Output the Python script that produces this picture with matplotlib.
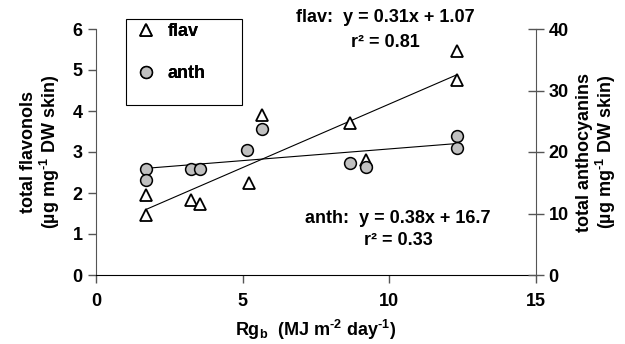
import matplotlib.pyplot as plt
from matplotlib.patches import Rectangle

plt.rcParams['font.family'] = ['Liberation Sans', 'DejaVu Sans']
plt.rcParams['font.weight'] = 'bold'
plt.rcParams['mathtext.fontset'] = 'custom'
plt.rcParams['mathtext.rm'] = 'Liberation Sans:bold'
plt.rcParams['mathtext.bf'] = 'Liberation Sans:bold'
plt.rcParams['mathtext.default'] = 'bf'

# global radiation (Rg_b) for each sample
rg_flav = [1.7, 1.7, 3.25, 3.55, 5.2, 5.65, 8.65, 9.2, 12.3, 12.3]
flav = [1.46, 1.95, 1.83, 1.73, 2.24, 3.9, 3.7, 2.8, 5.46, 4.75]

rg_anth = [1.7, 1.7, 3.25, 3.55, 5.15, 5.65, 8.65, 9.2, 12.3, 12.3]
anth = [17.2, 15.4, 17.2, 17.2, 20.3, 23.7, 18.2, 17.6, 22.6, 20.6]

# fitted regressions: slope, intercept, r²
flav_fit = (0.31, 1.07, 0.81)
anth_fit = (0.38, 16.7, 0.33)
fit_range = [1.7, 12.3]

fig = plt.figure(figsize=(6.25, 3.44), dpi=100)
ax = fig.add_axes([96/625, 1 - 275/344, 440/625, 246/344])
ax2 = ax.twinx()

fs = 13

ax.plot(rg_flav, flav, linestyle='none', marker='^', markersize=9,
        markerfacecolor='white', markeredgecolor='black', markeredgewidth=1.3,
        label='flav', zorder=3)
ax.plot(fit_range, [flav_fit[0] * x + flav_fit[1] for x in fit_range],
        color='black', lw=0.8, zorder=2)

ax2.plot(rg_anth, anth, linestyle='none', marker='o', markersize=8.5,
         markerfacecolor='#c0c0c0', markeredgecolor='black', markeredgewidth=1.1,
         label='anth', zorder=3)
ax2.plot(fit_range, [anth_fit[0] * x + anth_fit[1] for x in fit_range],
         color='black', lw=0.8, zorder=2)

ax.set_xlim(0, 15)
ax.set_ylim(0, 6)
ax2.set_ylim(0, 40)
ax.set_xticks([0, 5, 10, 15])
ax.set_yticks(range(7))
ax2.set_yticks(range(0, 41, 10))

for a in (ax, ax2):
    a.spines['top'].set_visible(False)
    a.tick_params(labelsize=fs, width=1, length=6, color='#555555')
ax2.spines['left'].set_visible(False)
ax.spines['right'].set_visible(False)
ax.spines['left'].set_color('#555555')
ax2.spines['right'].set_color('#555555')
ax2.spines['bottom'].set_visible(False)
ax.tick_params(axis='x', direction='out', pad=7)
ax2.tick_params(axis='y', direction='inout', length=12, pad=3)

ax.set_ylabel('total flavonols\n(µg mg$^{\\text{-}1}$ DW skin)', fontsize=fs,
              fontweight='bold', labelpad=8, linespacing=1.05)
ax2.set_ylabel('total anthocyanins\n(µg mg$^{\\text{-}1}$ DW skin)', fontsize=fs,
               fontweight='bold', rotation=90, labelpad=5, linespacing=1.05)
ax.set_xlabel('Rg$_{b}$  (MJ m$^{\\text{-}2}$ day$^{\\text{-}1}$)', fontsize=fs,
              fontweight='bold', labelpad=6)

h1, l1 = ax.get_legend_handles_labels()
h2, l2 = ax2.get_legend_handles_labels()
leg = ax.legend(h1 + h2, l1 + l2, loc='upper left', bbox_to_anchor=(0.073, 1.053),
                fontsize=fs, frameon=False, labelspacing=1.4, handlelength=1.2,
                handletextpad=0.6, borderpad=0.4, borderaxespad=0)
ax.add_artist(leg)
ax.add_patch(Rectangle((0.068, 0.691), 0.264, 0.35, transform=ax.transAxes,
                       fill=False, edgecolor='black', lw=0.8, clip_on=False))

ax.text(9.86, 6.29, 'flav:  y = %.2fx + %.2f' % flav_fit[:2], fontsize=fs,
        fontweight='bold', ha='center', va='center')
ax.text(9.86, 5.66, 'r² = %.2f' % flav_fit[2], fontsize=fs,
        fontweight='bold', ha='center', va='center')
ax.text(10.3, 1.39, 'anth:  y = %.2fx + %.1f' % anth_fit[:2], fontsize=fs,
        fontweight='bold', ha='center', va='center')
ax.text(10.3, 0.85, 'r² = %.2f' % anth_fit[2], fontsize=fs,
        fontweight='bold', ha='center', va='center')

fig.savefig('out.png', dpi=100)
